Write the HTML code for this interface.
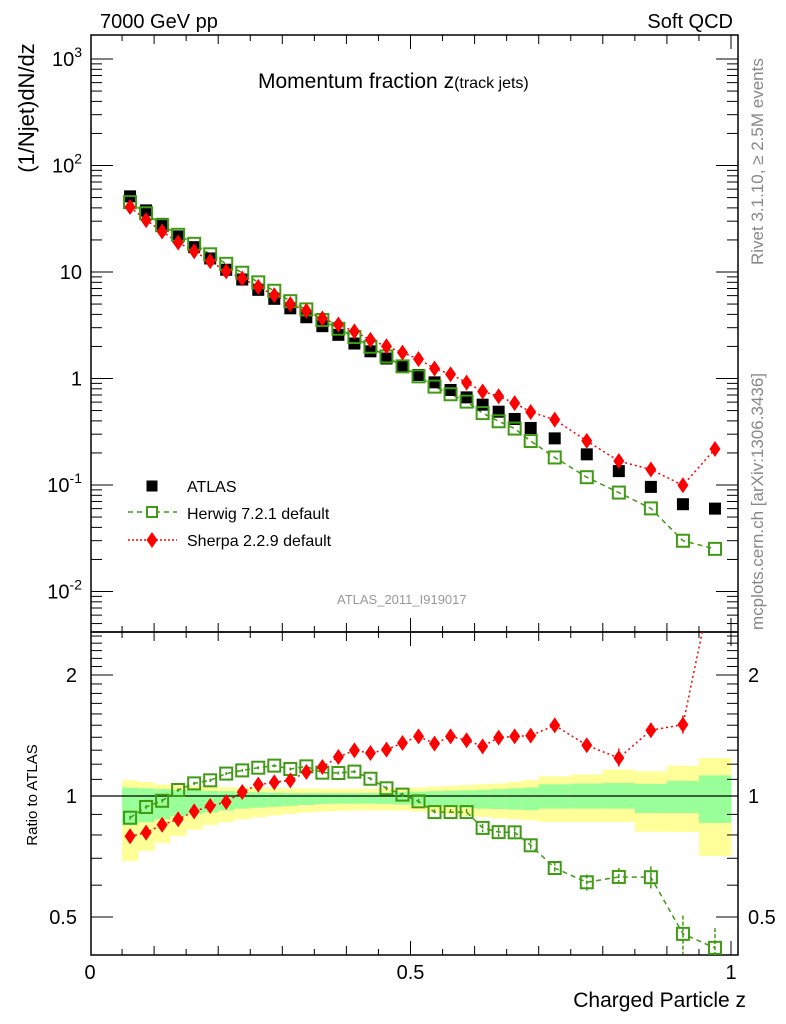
<!DOCTYPE html>
<html><head><meta charset="utf-8"><style>
body{margin:0;background:#fff;}
svg{display:block;font-family:"Liberation Sans",sans-serif;}
</style></head><body>
<svg id="chart" width="786" height="1024" viewBox="0 0 786 1024" xmlns="http://www.w3.org/2000/svg">
<defs>
<clipPath id="clipMain"><rect x="91" y="35" width="647" height="597"/></clipPath>
<clipPath id="clipRatio"><rect x="91" y="632" width="647" height="323"/></clipPath>
</defs>
<text x="100" y="28" font-size="20">7000 GeV pp</text>
<text x="733" y="28" font-size="20" text-anchor="end">Soft QCD</text>
<text x="258" y="88" font-size="21">Momentum fraction z<tspan font-size="16">(track jets)</tspan></text>
<text transform="translate(763,265) rotate(-90)" font-size="17" fill="#888">Rivet 3.1.10, ≥ 2.5M events</text>
<text transform="translate(763,630) rotate(-90)" font-size="17" fill="#888">mcplots.cern.ch [arXiv:1306.3436]</text>
<text transform="translate(34,108) rotate(-90)" font-size="22" text-anchor="middle">(1/Njet)dN/dz</text>
<text transform="translate(37,795) rotate(-90)" font-size="15" text-anchor="middle">Ratio to ATLAS</text>
<text x="746" y="1007" font-size="21" text-anchor="end">Charged Particle z</text>
<text x="337" y="604" font-size="13" fill="#999">ATLAS_2011_I919017</text>
<g id="bands" clip-path="url(#clipRatio)"></g>
<g id="axes"></g>
<g id="mainMarks" clip-path="url(#clipMain)"></g>
<g id="ratioMarks" clip-path="url(#clipRatio)"></g>
<g id="legend"></g>
</svg>
<script>
const binLo = [0.05,0.075,0.1,0.125,0.15,0.175,0.2,0.225,0.25,0.275,0.3,0.325,0.35,0.375,0.4,0.425,0.45,0.475,0.5,0.525,0.55,0.575,0.6,0.625,0.65,0.675,0.7,0.75,0.8,0.85,0.9,0.95];
const binHi = [0.075,0.1,0.125,0.15,0.175,0.2,0.225,0.25,0.275,0.3,0.325,0.35,0.375,0.4,0.425,0.45,0.475,0.5,0.525,0.55,0.575,0.6,0.625,0.65,0.675,0.7,0.75,0.8,0.85,0.9,0.95,1.0];
const atlas = [51.3,37.9,28.3,21.6,17.1,13.4,10.5,8.5,6.8,5.6,4.56,3.76,3.10,2.57,2.13,1.80,1.54,1.29,1.08,0.92,0.78,0.665,0.568,0.488,0.417,0.343,0.274,0.194,0.135,0.096,0.066,0.060];
const herwigRatio = [0.883,0.939,0.973,1.035,1.075,1.094,1.137,1.158,1.176,1.190,1.167,1.185,1.143,1.141,1.150,1.104,1.045,1.008,0.970,0.912,0.912,0.912,0.833,0.813,0.812,0.754,0.662,0.610,0.629,0.628,0.454,0.419];
const sherpaRatio = [0.794,0.811,0.848,0.875,0.916,0.944,0.966,1.023,1.067,1.081,1.094,1.147,1.181,1.250,1.299,1.279,1.304,1.355,1.407,1.350,1.407,1.376,1.329,1.397,1.407,1.413,1.499,1.337,1.243,1.457,1.505,3.63];
const herwigErr = [0.01,0.01,0.01,0.01,0.01,0.01,0.01,0.01,0.01,0.01,0.01,0.01,0.01,0.01,0.01,0.01,0.012,0.012,0.013,0.015,0.016,0.017,0.02,0.022,0.024,0.026,0.025,0.028,0.033,0.04,0.05,0.05];
const sherpaErr = [0.01,0.01,0.01,0.01,0.01,0.01,0.01,0.01,0.012,0.013,0.014,0.015,0.016,0.018,0.02,0.022,0.024,0.026,0.028,0.03,0.032,0.034,0.036,0.038,0.04,0.045,0.045,0.05,0.07,0.06,0.08,0.2];
const yellowUp = [1.094,1.083,1.069,1.063,1.058,1.055,1.052,1.05,1.048,1.046,1.045,1.044,1.043,1.042,1.042,1.043,1.045,1.047,1.05,1.055,1.06,1.065,1.07,1.075,1.085,1.095,1.119,1.132,1.163,1.152,1.19,1.243];
const yellowDn = [0.689,0.730,0.764,0.795,0.825,0.846,0.862,0.875,0.885,0.895,0.903,0.91,0.915,0.918,0.92,0.921,0.921,0.92,0.915,0.908,0.9,0.893,0.887,0.88,0.875,0.87,0.862,0.862,0.862,0.815,0.814,0.709];
const greenUp = [1.049,1.045,1.04,1.037,1.034,1.03,1.028,1.025,1.022,1.02,1.018,1.017,1.017,1.017,1.017,1.018,1.02,1.022,1.025,1.028,1.03,1.033,1.036,1.04,1.045,1.05,1.069,1.074,1.078,1.072,1.09,1.125];
const greenDn = [0.846,0.86,0.875,0.89,0.9,0.91,0.92,0.93,0.935,0.94,0.945,0.95,0.955,0.957,0.957,0.957,0.955,0.952,0.95,0.945,0.94,0.935,0.93,0.928,0.925,0.922,0.93,0.93,0.93,0.907,0.907,0.857];
const xTickVals = [0,0.5,1];
const xTickLabels = ["0","0.5","1"];
const yMainExp = [-2,-1,0,1,2,3];
const yMainLabels = ["10","10","1","10","10","10"];
const ratioTicks = [0.5,1,2];
const ratioTickLabels = ["0.5","1","2"];

const NS = "http://www.w3.org/2000/svg";
const X0=91, X1=738, Y0=35, YM=632, YR=955;
function xs(z){return 90 + z*641;}
function ys(v){return 378.5 - Math.log10(v)*106.5;}
function yr(r){return 796 - Math.log2(r)*121;}
function mk(tag, attrs, parent){const e=document.createElementNS(NS,tag);for(const k in attrs)e.setAttribute(k,attrs[k]);parent.appendChild(e);return e;}
const axes=document.getElementById('axes');
const bands=document.getElementById('bands');
const mainG=document.getElementById('mainMarks');
const ratioG=document.getElementById('ratioMarks');
const legG=document.getElementById('legend');
const GREEN="#3f9a14", RED="#ff0000";

for(let i=0;i<binLo.length;i++){
  const a=xs(binLo[i]), b=xs(binHi[i]);
  const r1=mk('rect',{x:a,y:yr(yellowUp[i]),width:b-a+0.5,height:yr(yellowDn[i])-yr(yellowUp[i]),fill:'#ffff99'},bands);
  
  
  const r2=mk('rect',{x:a,y:yr(greenUp[i]),width:b-a+0.5,height:yr(greenDn[i])-yr(greenUp[i]),fill:'#99ff99'},bands);
  
  
}
const one=mk('line',{x1:X0,x2:X1,y1:yr(1),y2:yr(1),stroke:'#000','stroke-width':1.2},axes);



const f1=mk('rect',{x:X0,y:Y0,width:X1-X0,height:YM-Y0,fill:'none',stroke:'#000','stroke-width':1.5},axes);


const f2=mk('rect',{x:X0,y:YM,width:X1-X0,height:YR-YM,fill:'none',stroke:'#000','stroke-width':1.5},axes);



for(let k=1;k<=20;k++){
  const z=k*0.05, x=xs(z), L=(k%10===0)?14:(k%2===0?9:6);
  mk('line',{x1:x,x2:x,y1:Y0,y2:Y0+L,stroke:'#000','stroke-width':1},axes);
  mk('line',{x1:x,x2:x,y1:YM,y2:YM-L,stroke:'#000','stroke-width':1},axes);
  mk('line',{x1:x,x2:x,y1:YM,y2:YM+L,stroke:'#000','stroke-width':1},axes);
  mk('line',{x1:x,x2:x,y1:YR,y2:YR-L,stroke:'#000','stroke-width':1},axes);
}
xTickVals.forEach((v,i)=>{
  const t=mk('text',{x:xs(v),y:979,'font-size':20,'text-anchor':'middle'},axes);
  t.textContent=xTickLabels[i];
  
  
});
for(let e=-3;e<=3;e++){
  for(let m=1;m<10;m++){
    const v=m*Math.pow(10,e), y=ys(v);
    if(y<Y0||y>YM) continue;
    const L=(m===1)?22:11;
    mk('line',{x1:X0,x2:X0+L,y1:y,y2:y,stroke:'#000','stroke-width':1},axes);
    mk('line',{x1:X1,x2:X1-L,y1:y,y2:y,stroke:'#000','stroke-width':1},axes);
  }
}
yMainExp.forEach((e,i)=>{
  const y=ys(Math.pow(10,e));
  const t=mk('text',{x:82,y:y+7,'font-size':20,'text-anchor':'end'},axes);
  
  
  if(e===0){t.textContent='1';}
  else if(e===1){t.textContent='10';}
  else{t.textContent=yMainLabels[i];const s=mk('tspan',{'font-size':14,dy:-9},t);s.textContent=String(e);}
});
const rminor=[0.4,0.5,0.6,0.7,0.8,0.9,1,1.1,1.2,1.3,1.4,1.5,1.6,1.7,1.8,1.9,2,2.1,2.2,2.3,2.4,2.5];
rminor.forEach(r=>{
  const y=yr(r); if(y<YM||y>YR) return;
  const L=(ratioTicks.indexOf(r)>=0)?22:11;
  mk('line',{x1:X0,x2:X0+L,y1:y,y2:y,stroke:'#000','stroke-width':1},axes);
  mk('line',{x1:X1,x2:X1-L,y1:y,y2:y,stroke:'#000','stroke-width':1},axes);
});
ratioTicks.forEach((r,i)=>{
  const t=mk('text',{x:77,y:yr(r)+7,'font-size':20,'text-anchor':'end'},axes);
  t.textContent=ratioTickLabels[i];
  
  
  const t2=mk('text',{x:748,y:yr(r)+7,'font-size':20},axes);
  t2.textContent=ratioTickLabels[i];
  
  
});

function ctr(i){return (binLo[i]+binHi[i])/2;}
function square(g,cx,cy,s,filled,color,name){
  const r=mk('rect',{x:cx-s/2,y:cy-s/2,width:s,height:s,fill:filled?color:'none',stroke:color,'stroke-width':filled?0:2},g);
  
  
}
function diamond(g,cx,cy,name){
  const p=mk('polygon',{points:`${cx},${cy-8} ${cx+5.5},${cy} ${cx},${cy+8} ${cx-5.5},${cy}`,fill:RED},g);
  
  
}
const hv=atlas.map((a,i)=>a*herwigRatio[i]);
const sv=atlas.map((a,i)=>a*sherpaRatio[i]);
const hl=mk('polyline',{points:hv.map((v,i)=>xs(ctr(i))+','+ys(v)).join(' '),fill:'none',stroke:GREEN,'stroke-width':1.5,'stroke-dasharray':'5,4'},mainG);


const sl=mk('polyline',{points:sv.map((v,i)=>xs(ctr(i))+','+ys(v)).join(' '),fill:'none',stroke:RED,'stroke-width':1.5,'stroke-dasharray':'2,3'},mainG);


atlas.forEach((v,i)=>square(mainG,xs(ctr(i)),ys(v),12,true,'#000','atlas-point'));
hv.forEach((v,i)=>square(mainG,xs(ctr(i)),ys(v),12,false,GREEN,'herwig-point'));
sv.forEach((v,i)=>diamond(mainG,xs(ctr(i)),ys(v),'sherpa-point'));

const hrl=mk('polyline',{points:herwigRatio.map((r,i)=>xs(ctr(i))+','+yr(r)).join(' '),fill:'none',stroke:GREEN,'stroke-width':1.5,'stroke-dasharray':'5,4'},ratioG);


const srl=mk('polyline',{points:sherpaRatio.map((r,i)=>xs(ctr(i))+','+yr(r)).join(' '),fill:'none',stroke:RED,'stroke-width':1.5,'stroke-dasharray':'2,3'},ratioG);


herwigRatio.forEach((r,i)=>{
  const x=xs(ctr(i));
  const e=mk('line',{x1:x,x2:x,y1:yr(r+herwigErr[i]),y2:yr(r-herwigErr[i]),stroke:GREEN,'stroke-width':1.5,'stroke-dasharray':'4,2'},ratioG);
  
  
  square(ratioG,x,yr(r),12,false,GREEN,'herwig-ratio-point');
});
sherpaRatio.forEach((r,i)=>{
  const x=xs(ctr(i));
  const e=mk('line',{x1:x,x2:x,y1:yr(r+sherpaErr[i]),y2:yr(r-sherpaErr[i]),stroke:RED,'stroke-width':1.5,'stroke-dasharray':'2,2'},ratioG);
  
  
  diamond(ratioG,x,yr(r),'sherpa-ratio-point');
});

square(legG,152,486,11,true,'#000','legend-atlas-marker');
const l1=mk('line',{x1:128,x2:177,y1:512,y2:512,stroke:GREEN,'stroke-width':1.5,'stroke-dasharray':'5,4'},legG);


mk('rect',{x:147,y:507,width:10,height:10,fill:'#fff'},legG);
square(legG,152,512,10,false,GREEN,'legend-herwig-marker');
const l2=mk('line',{x1:128,x2:177,y1:540,y2:540,stroke:RED,'stroke-width':1.5,'stroke-dasharray':'2,2'},legG);


diamond(legG,152,540,'legend-sherpa-marker');
[["ATLAS",492,'legend-atlas'],["Herwig 7.2.1 default",519,'legend-herwig'],["Sherpa 2.2.9 default",546,'legend-sherpa']].forEach(d=>{
  const t=mk('text',{x:187,y:d[1],'font-size':16},legG);
  t.textContent=d[0];
  
  
});
</script>
</body></html>
